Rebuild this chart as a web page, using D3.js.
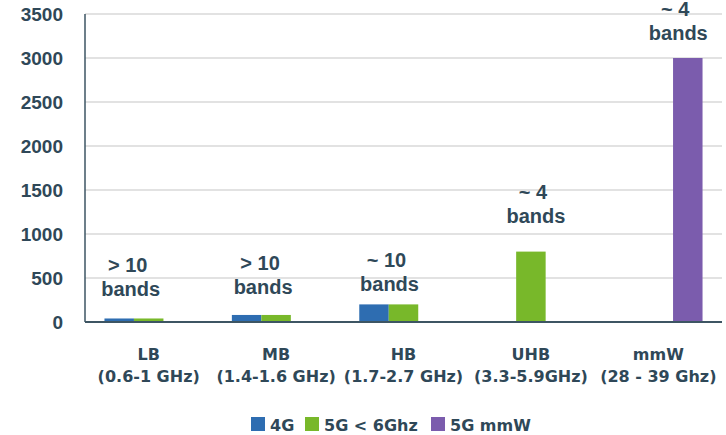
<!DOCTYPE html>
<html>
<head>
<meta charset="utf-8">
<script src="https://cdn.jsdelivr.net/npm/d3@7"></script>
<style>
  html, body { margin: 0; padding: 0; background: #ffffff; }
  svg { display: block; }
</style>
</head>
<body>
<script>
// Frequency bands and bandwidth per technology
const bands = ["LB", "MB", "HB", "UHB", "mmW"];
const bandRanges = ["(0.6-1 GHz)", "(1.4-1.6 GHz)", "(1.7-2.7 GHz)", "(3.3-5.9GHz)", "(28 - 39 Ghz)"];
const seriesNames = ["4G", "5G < 6Ghz", "5G mmW"];
const values4G     = [40, 80, 200, 0, 0];
const values5Gsub6 = [40, 80, 200, 800, 0];
const values5Gmmw  = [0, 0, 0, 0, 3000];
const yTicks = [0, 500, 1000, 1500, 2000, 2500, 3000, 3500];
const noteFirst  = ["> 10", "> 10", "~ 10", "~ 4", "~ 4"];
const noteSecond = ["bands", "bands", "bands", "bands", "bands"];
const noteLevels = [295, 318, 352, 1125, 3205];

const W = 726, H = 435;
const plotLeft = 85, plotRight = 722, plotTop = 14, plotBottom = 322;
const colors = ["#2e6db1", "#78b82a", "#7b5cad"];
const textColor = "#2f4858";
const labelFont = "'DejaVu Sans', Verdana, sans-serif";
const seriesValues = [values4G, values5Gsub6, values5Gmmw];

const svg = d3.select("body").append("svg").attr("width", W).attr("height", H);

const x = d3.scaleBand().domain(bands).range([plotLeft, plotRight]).padding(0);
const xSub = d3.scaleBand().domain(seriesNames).range([0, x.bandwidth()]).paddingInner(0).paddingOuter(0.66);
const y = d3.scaleLinear().domain([0, 3500]).range([plotBottom, plotTop]);

// Gridlines
svg.append("g")
  .selectAll("line")
  .data(yTicks.filter(t => t > 0))
  .join("line")
  .attr("x1", plotLeft).attr("x2", plotRight)
  .attr("y1", d => y(d)).attr("y2", d => y(d))
  .attr("stroke", "#d9d9d9").attr("stroke-width", 1.5);

// Y axis labels
const yAxis = d3.axisLeft(y).tickValues(yTicks).tickSize(0).tickPadding(22).tickFormat(d3.format("d"));
const yg = svg.append("g").attr("transform", `translate(${plotLeft},0)`).call(yAxis);
yg.select(".domain").remove();
yg.selectAll("text")
  .attr("fill", textColor)
  .style("font-family", "'Liberation Sans', Arial, sans-serif")
  .style("font-weight", "bold")
  .style("font-size", "19px");

// Bars
const rows = bands.map((b, i) => seriesNames.map((s, j) => ({ band: b, series: s, value: seriesValues[j][i], color: colors[j] })));
svg.append("g")
  .selectAll("g")
  .data(rows)
  .join("g")
  .attr("transform", d => `translate(${x(d[0].band)},0)`)
  .selectAll("rect")
  .data(d => d.filter(v => v.value > 0))
  .join("rect")
  .attr("x", d => xSub(d.series))
  .attr("width", xSub.bandwidth())
  .attr("y", d => y(d.value))
  .attr("height", d => y(0) - y(d.value))
  .attr("fill", d => d.color);

// Axis lines
svg.append("line").attr("x1", plotLeft).attr("x2", plotLeft).attr("y1", plotTop).attr("y2", plotBottom)
  .attr("stroke", "#3d5563").attr("stroke-width", 1.5);
svg.append("line").attr("x1", plotLeft).attr("x2", plotRight).attr("y1", plotBottom).attr("y2", plotBottom)
  .attr("stroke", "#3d5563").attr("stroke-width", 2);

// Category labels
const xg = svg.append("g").selectAll("text").data(bands).join("text")
  .attr("x", d => x(d) + x.bandwidth() / 2)
  .attr("text-anchor", "middle")
  .attr("fill", textColor)
  .style("font-family", labelFont)
  .style("font-weight", "bold")
  .style("font-size", "16px");
xg.append("tspan").attr("x", d => x(d) + x.bandwidth() / 2).attr("y", 360).text(d => d);
xg.append("tspan").attr("x", d => x(d) + x.bandwidth() / 2).attr("y", 382).text((d, i) => bandRanges[i]);

// Band-count notes
const noteShift = [-18, -13, -14, 5, 20];
const notes = svg.append("g").selectAll("text").data(bands).join("text")
  .attr("text-anchor", "middle")
  .attr("fill", textColor)
  .style("font-family", "'Liberation Sans', Arial, sans-serif")
  .style("font-weight", "bold")
  .style("font-size", "20px");
notes.append("tspan")
  .attr("x", (d, i) => x(d) + x.bandwidth() / 2 + noteShift[i] - 3)
  .attr("y", (d, i) => y(noteLevels[i]) - 24)
  .text((d, i) => noteFirst[i]);
notes.append("tspan")
  .attr("x", (d, i) => x(d) + x.bandwidth() / 2 + noteShift[i])
  .attr("y", (d, i) => y(noteLevels[i]))
  .text((d, i) => noteSecond[i]);

// Legend
const legendX = [251, 305, 431];
const lg = svg.append("g").selectAll("g").data(seriesNames).join("g")
  .attr("transform", (d, i) => `translate(${legendX[i]},417)`);
lg.append("rect").attr("width", 14).attr("height", 14).attr("fill", (d, i) => colors[i]);
lg.append("text").attr("x", 19).attr("y", 14)
  .attr("fill", textColor)
  .style("font-family", labelFont)
  .style("font-weight", "bold")
  .style("font-size", "16px")
  .text(d => d);
</script>
</body>
</html>
